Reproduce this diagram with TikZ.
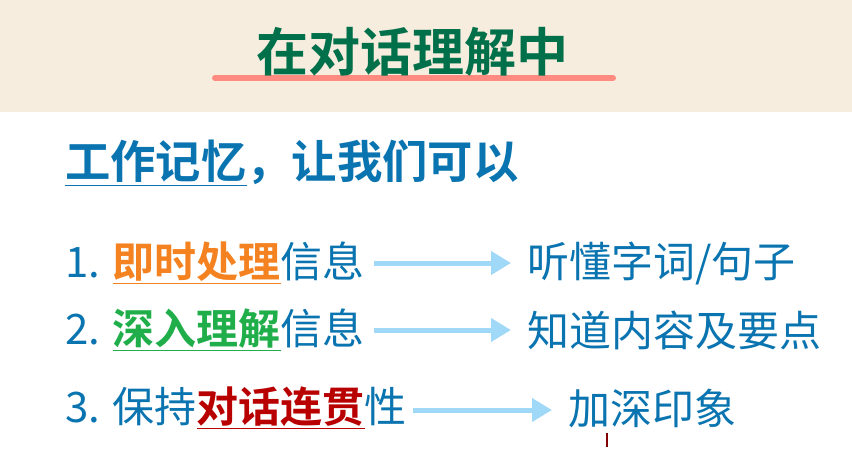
\documentclass[tikz,border=0pt]{standalone}
\usepackage{fontspec}
\setmainfont{Noto Sans CJK SC}
\newfontfamily\cjkb{Noto Sans CJK SC Bold}
\usetikzlibrary{arrows.meta}
\definecolor{band}{HTML}{F7EDDE}
\definecolor{ttl}{HTML}{00704A}
\definecolor{salmon}{HTML}{FF8A80}
\definecolor{tblue}{HTML}{0A74B0}
\definecolor{aorange}{HTML}{F58220}
\definecolor{agreen}{HTML}{1FAE4A}
\definecolor{ared}{HTML}{B80000}
\definecolor{arr}{HTML}{A0D8F8}
\tikzset{
  txt/.style={anchor=west,inner sep=0pt,text=tblue,font=\fontsize{31.5}{34}\selectfont},
  flow/.style={draw=arr,line width=3.75pt,-{Triangle[length=15pt,width=17pt]}}
}
\begin{document}
\begin{tikzpicture}[x=0.75pt,y=-0.75pt]
\useasboundingbox (0,0) rectangle (852,471);
\fill[band] (0,0) rectangle (852,112);
\draw[salmon,line width=4.5pt,line cap=round] (215,78) -- (613,78);
\node[inner sep=0pt,text=ttl,font=\cjkb\fontsize{39}{42}\selectfont] (title) at (412,52) {在对话理解中};
\node[anchor=west,inner sep=0pt,text=tblue,font=\cjkb\fontsize{34}{38}\selectfont] (head) at (65,163) {\underline{工作记忆}，让我们可以};
\node[txt] (a1) at (65,263) {1. {\cjkb\color{aorange}\underline{即时处理}}信息};
\node[txt] (a2) at (65,330) {2. {\cjkb\color{agreen}\underline{深入理解}}信息};
\node[txt] (a3) at (65,408) {3. 保持{\cjkb\color{ared}\underline{对话连贯}}性};
\node[txt] (b1) at (527,263) {听懂字词/句子};
\node[txt] (b2) at (527,330) {知道内容及要点};
\node[txt] (b3) at (568,408) {加深印象};
\coordinate (s1) at (374,263); \coordinate (e1) at (511,263);
\coordinate (s2) at (374,330); \coordinate (e2) at (511,330);
\coordinate (s3) at (413,410); \coordinate (e3) at (552,410);
\draw[flow] (s1) -- (e1);
\draw[flow] (s2) -- (e2);
\draw[flow] (s3) -- (e3);
\draw[ared!70!black,line width=0.8pt] (607,433) -- (607,447);
\end{tikzpicture}
\end{document}
